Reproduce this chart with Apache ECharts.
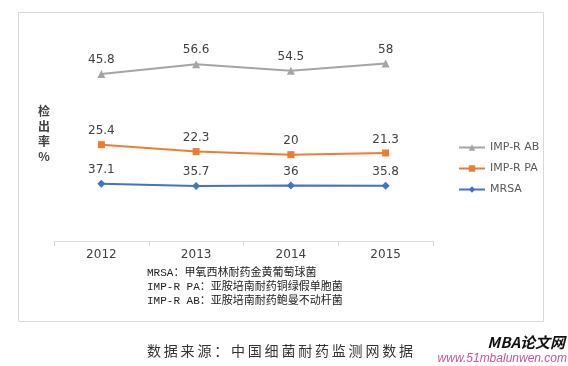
<!DOCTYPE html>
<html><head><meta charset="utf-8">
<script src="https://cdn.jsdelivr.net/npm/echarts@6/dist/echarts.min.js"></script>
<style>html,body{margin:0;padding:0;background:#fff}#c{width:568px;height:366px}</style>
</head><body><div id="c"></div>
<script>
var categories = ['2012', '2013', '2014', '2015'];
var mrsa = [37.1, 35.7, 36, 35.8];
var impPA = [25.4, 22.3, 20, 21.3];
var impAB = [45.8, 56.6, 54.5, 58];
var seriesNames = ['MRSA', 'IMP-R PA', 'IMP-R AB'];
var notes = ['MRSA：甲氧西林耐药金黄葡萄球菌', 'IMP-R PA：亚胺培南耐药铜绿假单胞菌', 'IMP-R AB：亚胺培南耐药鲍曼不动杆菌'];
var sourceText = '数据来源：中国细菌耐药监测网数据';

var chart = echarts.init(document.getElementById('c'));
var lbl = {show: true, position: 'top', distance: 4, fontSize: 12, color: '#404040', fontFamily: 'DejaVu Sans'};
function mk(name, data, color, symbol, size) {
  return {name: name, type: 'line', stack: 'total', data: data, symbol: symbol, symbolSize: size,
    lineStyle: {color: color, width: 2}, itemStyle: {color: color}, label: lbl, z: 3};
}
chart.setOption({
  backgroundColor: '#fff',
  animation: false,
  grid: {left: 54, right: 135, top: 56, bottom: 125},
  xAxis: {type: 'category', data: categories, boundaryGap: true,
    axisLine: {lineStyle: {color: '#D9D9D9'}},
    axisTick: {show: true, length: 5, lineStyle: {color: '#D9D9D9'}},
    axisLabel: {fontSize: 12, color: '#404040', margin: 8, fontFamily: 'DejaVu Sans'}},
  yAxis: {type: 'value', min: 0, max: 120, show: false, splitLine: {show: false}},
  legend: {orient: 'vertical', left: 453, top: 137, itemGap: 10, itemWidth: 26, itemHeight: 8,
    data: [seriesNames[2], seriesNames[1], seriesNames[0]],
    textStyle: {fontSize: 11, color: '#595959', fontFamily: 'DejaVu Sans'}},
  series: [
    mk(seriesNames[0], mrsa, '#4472C4', 'diamond', 8),
    mk(seriesNames[1], impPA, '#ED7D31', 'rect', 7),
    mk(seriesNames[2], impAB, '#A5A5A5', 'triangle', 8)
  ],
  graphic: [
    {type: 'rect', shape: {x: 18.5, y: 12.5, width: 525, height: 309}, style: {fill: null, stroke: '#D9D9D9', lineWidth: 1}, z: -1},
    {type: 'text', x: 44, y: 104, style: {text: '检\n出\n率\n%', fontSize: 12, fontWeight: 'bold', lineHeight: 15, fill: '#404040', align: 'center', fontFamily: 'Noto Sans CJK SC'}},
    {type: 'text', x: 147, y: 266, style: {text: notes.join('\n'), fontSize: 11, lineHeight: 14, fill: '#222', fontFamily: 'Liberation Mono, Noto Sans CJK SC'}},
    {type: 'text', x: 147, y: 344, style: {text: sourceText.split('').join('\u2009'), fontSize: 14, fill: '#333', fontFamily: 'Noto Sans CJK SC'}},
    {type: 'text', x: 565, y: 335, style: {text: 'MBA论文网', fontSize: 15, fontWeight: 'bold', fontStyle: 'italic', fill: '#111', align: 'right', fontFamily: 'Noto Sans CJK SC'}},
    {type: 'text', x: 567, y: 353, style: {text: 'www.51mbalunwen.com', fontSize: 12, fontStyle: 'italic', fill: '#c8559a', align: 'right', fontFamily: 'Liberation Sans'}}
  ]
});
</script></body></html>
